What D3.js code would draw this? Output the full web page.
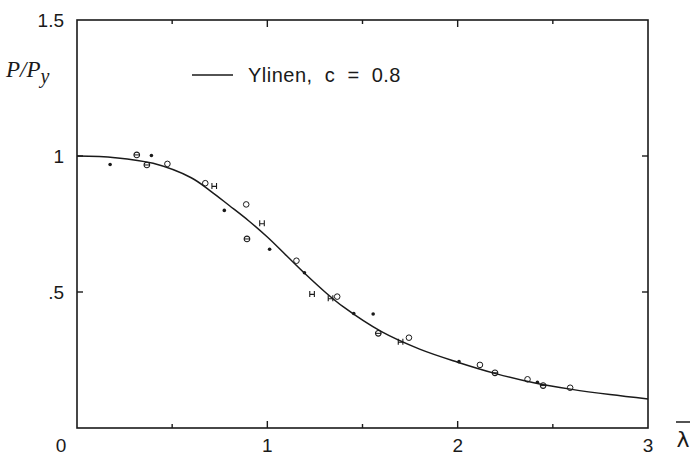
<!DOCTYPE html>
<html lang="en">
  <head>
    <meta charset="utf-8" />
    <title>Ylinen column curve</title>
    <style>
      body { margin: 0; background: #fff; }
      svg { display: block; }
    </style>
  </head>
  <body>
    <div id="graph-display"></div>

    <script src="https://d3js.org/d3.v7.min.js"></script>
    <script>
      // curve values (lambda, P/Py)
      const curveLambda = [0, 0.2, 0.4, 0.6, 0.7, 0.8, 0.9, 1.0, 1.1, 1.2, 1.3, 1.4, 1.6, 1.8, 2.0, 2.2, 2.4, 2.6, 2.8, 3.0];
      const curveLoad = [1.0, 0.994, 0.973, 0.92, 0.872, 0.818, 0.763, 0.702, 0.634, 0.566, 0.502, 0.445, 0.354, 0.29, 0.242, 0.2, 0.166, 0.142, 0.123, 0.107];

      // test points, grouped by the marker used
      const dotPts = [[0.174, 0.969], [0.391, 1.002], [0.774, 0.80], [1.012, 0.657], [1.195, 0.571],
                      [1.454, 0.421], [1.556, 0.419], [2.007, 0.244], [2.419, 0.168]];
      const circlePts = [[0.475, 0.971], [0.674, 0.90], [0.889, 0.822], [1.153, 0.615], [1.367, 0.483],
                         [1.744, 0.332], [2.117, 0.232], [2.367, 0.179], [2.591, 0.148]];
      const thetaPts = [[0.314, 1.004], [0.367, 0.967], [0.893, 0.695], [1.583, 0.348], [2.196, 0.203], [2.449, 0.156]];
      const hPts = [[0.721, 0.89], [0.972, 0.753], [1.235, 0.493], [1.332, 0.477], [1.70, 0.317]];

      const xTicks = [0, 1, 2, 3];
      const xMinor = [0.5, 1.5, 2.5];
      const yTicks = [0, 0.5, 1, 1.5];
      const yTickLabels = ["0", ".5", "1", "1.5"];
      const legendLabel = "Ylinen,  c  =  0.8";

      const width = 693, height = 457;
      const padL = 77, padR = 648, padT = 20, padB = 428;
      const ink = "#1a1a1a";

      const x = d3.scaleLinear().domain([0, 3]).range([padL, padR]);
      const y = d3.scaleLinear().domain([0, 1.5]).range([padB, padT]);

      const svg = d3.select("#graph-display")
        .append("svg")
        .attr("width", width)
        .attr("height", height);

      // frame
      svg.append("rect")
        .attr("x", padL).attr("y", padT)
        .attr("width", padR - padL).attr("height", padB - padT)
        .attr("fill", "none").attr("stroke", ink).attr("stroke-width", 1.6);

      // inward ticks on all four sides
      const allX = xTicks.slice(1, -1).concat(xMinor);
      const tickLen = (v) => (Number.isInteger(v) ? 7 : 4);
      allX.forEach((v) => {
        svg.append("line").attr("x1", x(v)).attr("x2", x(v))
          .attr("y1", padB).attr("y2", padB - tickLen(v))
          .attr("stroke", ink).attr("stroke-width", 1.4);
        svg.append("line").attr("x1", x(v)).attr("x2", x(v))
          .attr("y1", padT).attr("y2", padT + tickLen(v))
          .attr("stroke", ink).attr("stroke-width", 1.4);
      });
      [0.5, 1].forEach((v) => {
        svg.append("line").attr("x1", padL).attr("x2", padL + 6)
          .attr("y1", y(v)).attr("y2", y(v))
          .attr("stroke", ink).attr("stroke-width", 1.4);
        svg.append("line").attr("x1", padR).attr("x2", padR - 6)
          .attr("y1", y(v)).attr("y2", y(v))
          .attr("stroke", ink).attr("stroke-width", 1.4);
      });

      // tick labels
      const labelFont = "'Liberation Sans', Arial, sans-serif";
      svg.selectAll(".xlab")
        .data(xTicks)
        .enter()
        .append("text")
        .attr("x", (d) => (d === 0 ? x(d) - 16 : x(d)))
        .attr("y", 452)
        .attr("text-anchor", "middle")
        .attr("font-family", labelFont)
        .attr("font-size", 19)
        .attr("fill", ink)
        .text((d) => d);

      svg.selectAll(".ylab")
        .data(yTicks.slice(1))
        .enter()
        .append("text")
        .attr("x", 64)
        .attr("y", (d) => y(d) + 7)
        .attr("text-anchor", "end")
        .attr("font-family", labelFont)
        .attr("font-size", 19)
        .attr("fill", ink)
        .text((d, i) => yTickLabels[i + 1]);

      // axis titles
      const yTitle = svg.append("text")
        .attr("x", 6).attr("y", 77)
        .attr("font-family", "'Liberation Serif', 'Times New Roman', serif")
        .attr("font-style", "italic")
        .attr("font-size", 23)
        .attr("fill", ink);
      yTitle.append("tspan").text("P/P");
      yTitle.append("tspan").attr("dy", 6).attr("font-size", 20).text("y");

      svg.append("text")
        .attr("x", 683).attr("y", 447)
        .attr("text-anchor", "middle")
        .attr("font-family", "'DejaVu Sans', sans-serif")
        .attr("font-size", 22)
        .attr("fill", ink)
        .text("λ");
      svg.append("line")
        .attr("x1", 676).attr("x2", 690)
        .attr("y1", 422).attr("y2", 422)
        .attr("stroke", ink).attr("stroke-width", 1.5);

      // curve
      const line = d3.line()
        .x((d) => x(d[0]))
        .y((d) => y(d[1]))
        .curve(d3.curveCatmullRom.alpha(0.5));
      svg.append("path")
        .datum(curveLambda.map((l, i) => [l, curveLoad[i]]))
        .attr("d", line)
        .attr("fill", "none")
        .attr("stroke", ink)
        .attr("stroke-width", 1.5);

      // markers
      svg.selectAll(".dot")
        .data(dotPts)
        .enter()
        .append("circle")
        .attr("cx", (d) => x(d[0])).attr("cy", (d) => y(d[1]))
        .attr("r", 1.8)
        .attr("fill", ink);

      svg.selectAll(".open")
        .data(circlePts)
        .enter()
        .append("circle")
        .attr("cx", (d) => x(d[0])).attr("cy", (d) => y(d[1]))
        .attr("r", 2.8)
        .attr("fill", "none").attr("stroke", ink).attr("stroke-width", 1);

      const theta = svg.selectAll(".theta")
        .data(thetaPts)
        .enter()
        .append("g")
        .attr("transform", (d) => `translate(${x(d[0])},${y(d[1])})`);
      theta.append("circle").attr("r", 2.8)
        .attr("fill", "none").attr("stroke", ink).attr("stroke-width", 1.1);
      theta.append("line").attr("x1", -2.8).attr("x2", 2.8)
        .attr("stroke", ink).attr("stroke-width", 1);

      svg.selectAll(".hmark")
        .data(hPts)
        .enter()
        .append("path")
        .attr("transform", (d) => `translate(${x(d[0])},${y(d[1])})`)
        .attr("d", "M-2.3,-3V3M2.3,-3V3M-2.3,0.5H2.3")
        .attr("fill", "none").attr("stroke", ink).attr("stroke-width", 1.1);

      // legend
      svg.append("line")
        .attr("x1", 192).attr("x2", 233)
        .attr("y1", 75).attr("y2", 75)
        .attr("stroke", ink).attr("stroke-width", 1.5);
      svg.append("text")
        .attr("x", 248).attr("y", 82)
        .attr("font-family", labelFont)
        .attr("font-size", 20)
        .attr("letter-spacing", 0.5)
        .attr("fill", ink)
        .style("white-space", "pre")
        .text(legendLabel);
    </script>
  </body>
</html>
